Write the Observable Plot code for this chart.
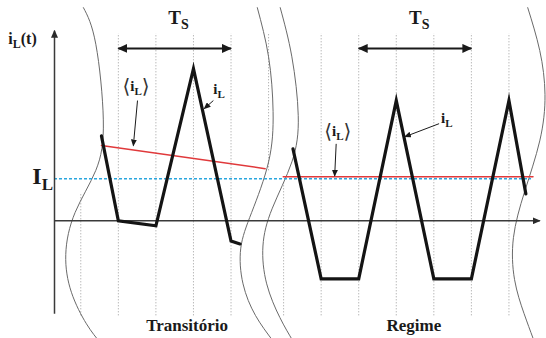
<!DOCTYPE html>
<html><head><meta charset="utf-8">
<script src="https://cdn.jsdelivr.net/npm/d3@7"></script>
<script src="https://cdn.jsdelivr.net/npm/@observablehq/plot@0.6"></script>
<style>
html,body{margin:0;padding:0;background:#fff;}
#chart svg{display:block;overflow:visible;}
</style></head><body><div id="chart"></div>
<script>
// ---- data (time in switching sub-intervals, current in units of I_L) ----
const transientT = [0.55, 1, 2, 3, 4, 4.24];
const transientI = [2.02, 0, -0.12, 3.62, -0.48, -0.55];
const regimeT = [5.65, 6.4, 7.4, 8.4, 9.4, 10.4, 11.4, 11.85];
const regimeI = [1.71, -1.38, -1.38, 2.86, -1.38, -1.38, 2.86, 0.64];

const avgTransientT = [0.55, 4.91];
const avgTransientI = [1.79, 1.24];
const avgRegimeT = [5.39, 12.04];
const avgRegimeI = [1.05, 1.05];

const IL = 1.0;
const ILspan = [-0.7, 12.0];

const gridT      = [0, 1, 2, 3, 4, 5, 5.4, 6.4, 7.4, 8.4, 9.4, 10.4, 11.4, 12.4];
const gridTop    = [0.64, 4.45, 4.45, 4.45, 4.45, 4.45, 0.95, 4.45, 4.45, 4.45, 4.45, 4.45, 4.45, 4.45];
const gridBottom = [-2.26, -2.26, -2.26, -2.26, -2.26, 1.19, -2.26, -2.26, -2.26, -2.26, -2.26, -2.26, -2.26, 1.9];

const breakLeftT  = [0.07, 0.40, 0.60, 0.40, -0.15, -0.40, -0.25, 0.15, 0.52];
const breakLeftI  = [5.07, 4.20, 2.40, 1.20, 0.20, -0.80, -1.70, -2.45, -2.9];
const breakMidAT  = [4.70, 5.00, 5.12, 5.00, 4.55, 4.26, 4.32, 4.65, 5.12];
const breakMidAI  = [5.07, 3.90, 2.60, 1.40, 0.20, -0.65, -1.50, -2.25, -2.86];
const breakMidBT  = [5.31, 5.62, 5.79, 5.62, 5.10, 4.85, 4.95, 5.30, 5.65];
const breakMidBI  = [5.07, 3.90, 2.50, 1.40, 0.30, -0.60, -1.50, -2.30, -2.86];
const breakRightT = [11.90, 12.22, 12.36, 12.22, 11.82, 11.52, 11.55, 11.80, 12.04];
const breakRightI = [5.07, 4.05, 3.00, 1.90, 0.70, -0.40, -1.40, -2.20, -2.79];

const axisX = {t1: -0.7, t2: 12.22, y: 0};
const axisY = {t: -0.7, y1: -2.21, y2: 4.52};

const tsStart = [1, 7.4];
const tsEnd   = [4, 10.4];
const tsLevel = 4.10;

const annFromT = [1.51, 3.53, 6.80, 9.54];
const annFromI = [2.86, 2.86, 1.83, 2.31];
const annToT   = [1.40, 3.29, 6.76, 8.63];
const annToI   = [1.79, 2.67, 1.07, 2.00];

const tsLabelT = [2.33, 8.74];
const tsLabelI = [4.69, 4.69];
const tsLabelText = ["T_S", "T_S"];

const annLabelT = [1.11, 3.53, 6.48, 9.59];
const annLabelI = [3.09, 3.02, 2.02, 2.33];
const annLabelText = ["⟨i_L⟩", "i_L", "⟨i_L⟩", "i_L"];

const regionT = [2.83, 8.87];
const regionI = [-2.62, -2.62];
const regionText = ["Transitório", "Regime"];

const axisLabelT = [-1.93, -1.29];
const axisLabelI = [4.21, 0.88];
const axisLabelText = ["i_L(t)", "I_L"];

// ---- tables ----
const toRows = (ts, is, id) => ts.map((t, k) => ({t, i: is[k], id}));
const wave = [...toRows(transientT, transientI, "tr"), ...toRows(regimeT, regimeI, "rg")];
const avg = [...toRows(avgTransientT, avgTransientI, "tr"), ...toRows(avgRegimeT, avgRegimeI, "rg")];
const breaks = [
  ...toRows(breakLeftT, breakLeftI, "L"), ...toRows(breakMidAT, breakMidAI, "A"),
  ...toRows(breakMidBT, breakMidBI, "B"), ...toRows(breakRightT, breakRightI, "R")
];
const grid = gridT.map((t, k) => ({t, y1: gridBottom[k], y2: gridTop[k]}));
const ts = tsStart.map((s, k) => ({t1: s, t2: tsEnd[k], y: tsLevel}));
const ann = annFromT.map((t, k) => ({t1: t, i1: annFromI[k], t2: annToT[k], i2: annToI[k]}));
const lbl = (ts_, is_, tx) => ts_.map((t, k) => ({t, i: is_[k], text: tx[k]}));

const serif = "'Liberation Serif','Times New Roman',serif";

const chart = Plot.plot({
  width: 546, height: 338, margin: 0,
  style: {background: "#fff", overflow: "visible"},
  x: {domain: [-0.7, 12.4], range: [54, 546], axis: null},
  y: {domain: [-2.8, 5.24], range: [338, 0], axis: null},
  marks: [
    Plot.ruleX(grid, {x: "t", y1: "y1", y2: "y2", stroke: "#9c9c9c", strokeWidth: 1, strokeDasharray: "1,2"}),
    Plot.line(breaks, {x: "t", y: "i", z: "id", curve: "natural", stroke: "#6a6a6a", strokeWidth: 1}),
    Plot.ruleY([IL], {x1: ILspan[0], x2: ILspan[1], y: d => d, stroke: "#2aa6de", strokeWidth: 1.6, strokeDasharray: "3,2"}),
    Plot.link([axisX], {x1: "t1", x2: "t2", y1: "y", y2: "y", stroke: "#3a3a3a", strokeWidth: 1.5, className: "ax-arrow"}),
    Plot.link([axisY], {x1: "t", x2: "t", y1: "y1", y2: "y2", stroke: "#3a3a3a", strokeWidth: 1.5, className: "ax-arrow"}),
    Plot.line(avg, {x: "t", y: "i", z: "id", stroke: "#e0393b", strokeWidth: 1.5}),
    Plot.line(wave, {x: "t", y: "i", z: "id", stroke: "#141414", strokeWidth: 3.2, strokeLinejoin: "miter", strokeMiterlimit: 10}),
    Plot.link(ts, {x1: "t1", x2: "t2", y1: "y", y2: "y", stroke: "#1a1a1a", strokeWidth: 2, className: "ts-arrow"}),
    Plot.link(ann, {x1: "t1", y1: "i1", x2: "t2", y2: "i2", stroke: "#1a1a1a", strokeWidth: 1, className: "ann-arrow"}),
    Plot.text(lbl(tsLabelT, tsLabelI, tsLabelText), {x: "t", y: "i", text: "text", textAnchor: "start", lineAnchor: "bottom", fontSize: 19, fontWeight: "bold", fontFamily: serif, fill: "#1a1a1a", className: "lbl"}),
    Plot.text(lbl(annLabelT, annLabelI, annLabelText), {x: "t", y: "i", text: "text", textAnchor: "start", lineAnchor: "bottom", fontSize: 15, fontWeight: "bold", fontFamily: serif, fill: "#1a1a1a", className: "lbl"}),
    Plot.text(lbl(axisLabelT.slice(0,1), axisLabelI.slice(0,1), axisLabelText.slice(0,1)), {x: "t", y: "i", text: "text", textAnchor: "start", lineAnchor: "bottom", fontSize: 16, fontWeight: "bold", fontFamily: serif, fill: "#1a1a1a", className: "lbl"}),
    Plot.text(lbl(axisLabelT.slice(1), axisLabelI.slice(1), axisLabelText.slice(1)), {x: "t", y: "i", text: "text", textAnchor: "start", lineAnchor: "bottom", fontSize: 24, fontWeight: "bold", fontFamily: serif, fill: "#1a1a1a", className: "lbl"}),
    Plot.text(lbl(regionT, regionI, regionText), {x: "t", y: "i", text: "text", textAnchor: "middle", lineAnchor: "bottom", fontSize: 17, fontWeight: "bold", fontFamily: serif, fill: "#1a1a1a"})
  ]
});
document.getElementById("chart").appendChild(chart);

// ---- filled arrowheads ----
const NS = "http://www.w3.org/2000/svg";
const defs = document.createElementNS(NS, "defs");
function marker(id, len, w, color) {
  const m = document.createElementNS(NS, "marker");
  m.setAttribute("id", id);
  m.setAttribute("viewBox", `0 0 ${len} ${w}`);
  m.setAttribute("refX", len - 1);
  m.setAttribute("refY", w / 2);
  m.setAttribute("markerWidth", len);
  m.setAttribute("markerHeight", w);
  m.setAttribute("markerUnits", "userSpaceOnUse");
  m.setAttribute("orient", "auto-start-reverse");
  const p = document.createElementNS(NS, "path");
  p.setAttribute("d", `M0,0L${len},${w / 2}L0,${w}Z`);
  p.setAttribute("fill", color);
  m.appendChild(p);
  defs.appendChild(m);
}
marker("mTs", 10, 9, "#1a1a1a");
marker("mAx", 8, 7, "#2a2a2a");
marker("mAnn", 7, 6, "#1a1a1a");
chart.insertBefore(defs, chart.firstChild);
chart.querySelectorAll(".ts-arrow path").forEach(p => {
  p.setAttribute("marker-start", "url(#mTs)");
  p.setAttribute("marker-end", "url(#mTs)");
});
chart.querySelectorAll(".ax-arrow path").forEach(p => p.setAttribute("marker-end", "url(#mAx)"));
chart.querySelectorAll(".ann-arrow path").forEach(p => p.setAttribute("marker-end", "url(#mAnn)"));

// ---- subscripts and angle brackets in labels ----
chart.querySelectorAll(".lbl text").forEach(el => {
  const s = el.textContent;
  const size = parseFloat(getComputedStyle(el).fontSize) || 16;
  const shift = Math.round(size * 0.24);
  el.textContent = "";
  let pending = 0;
  const add = (txt, opts) => {
    const ts_ = document.createElementNS(NS, "tspan");
    ts_.textContent = txt;
    for (const [k, v] of Object.entries(opts)) ts_.setAttribute(k, v);
    el.appendChild(ts_);
  };
  for (let k = 0; k < s.length; k++) {
    const c = s[k];
    if (c === "_" && k + 1 < s.length) {
      add(s[k + 1], {"font-size": Math.round(size * 0.72), dy: shift});
      pending = -shift;
      k++;
    } else if (c === "⟨" || c === "⟩") {
      const up = Math.round(size * 0.12);
      add(c, {dy: pending + up, "font-size": Math.round(size * 1.35), "font-weight": "normal", "font-family": "'DejaVu Sans',sans-serif", fill: "#333"});
      pending = -up;
    } else {
      add(c, {dy: pending});
      pending = 0;
    }
  }
});
</script>
</body></html>
